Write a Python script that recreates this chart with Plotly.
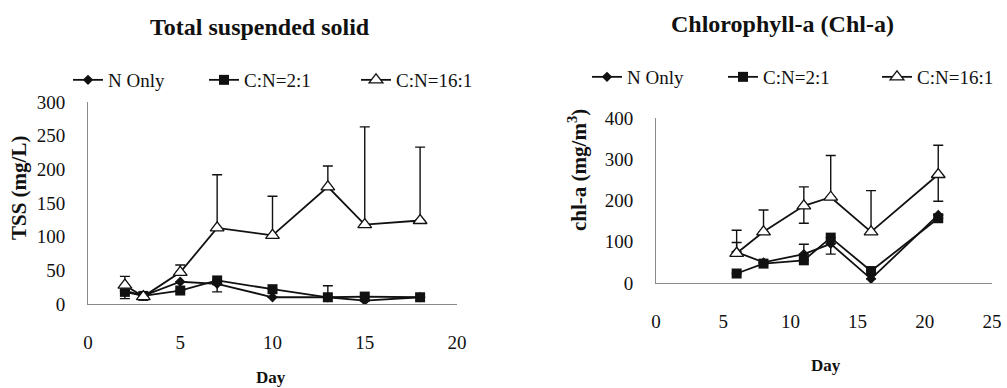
import plotly.graph_objects as go

# ---- Total suspended solid (TSS, mg/L) ----
tss_days = [2, 3, 5, 7, 10, 13, 15, 18]
tss_n_only = [20, 12, 33, 30, 10, 10, 5, 10]
tss_cn2 = [18, 12, 20, 35, 22, 10, 11, 10]
tss_cn16 = [28, 11, 47, 113, 102, 174, 118, 124]
tss_n_only_err_lo = [12, 0, 0, 0, 0, 0, 0, 0]
tss_cn2_err_hi = [0, 0, 0, 0, 0, 17, 0, 0]
tss_cn2_err_lo = [0, 0, 0, 17, 0, 0, 0, 0]
tss_cn16_err_hi = [13, 0, 11, 79, 58, 31, 145, 109]

# ---- Chlorophyll-a (Chl-a, mg/m3) ----
chl_days = [6, 8, 11, 13, 16, 21]
chl_n_only = [75, 50, 70, 95, 10, 165]
chl_cn2 = [23, 47, 55, 110, 29, 157]
chl_cn16 = [72, 124, 187, 208, 124, 263]
chl_n_only_err_hi = [23, 0, 24, 0, 0, 0]
chl_cn2_err_lo = [0, 0, 0, 40, 0, 0]
chl_cn16_err_hi = [56, 53, 46, 101, 100, 71]
chl_cn16_err_lo = [0, 0, 42, 0, 0, 65]

series_names = ["N Only", "C:N=2:1", "C:N=16:1"]

FONT = "Liberation Serif"
INK = "#111111"
AXIS = "#8a8a8a"

W, H = 1007, 388


def px_x(p):
    return p / W


def px_y(p):
    return 1 - p / H


def err(hi, lo):
    return dict(type="data", symmetric=False, array=hi, arrayminus=lo,
                color=INK, thickness=1.4, width=5)


zeros8 = [0] * len(tss_days)
zeros6 = [0] * len(chl_days)

fig = go.Figure()

marker_styles = [
    dict(symbol="diamond", size=8, color=INK),
    dict(symbol="square", size=10, color=INK),
    dict(symbol="triangle-up", size=12, color="white", line=dict(color=INK, width=1.3)),
]

# one legend per entry so each key sits where it belongs in its row
tss_legends = ["legend", "legend2", "legend3"]
chl_legends = ["legend4", "legend5", "legend6"]

tss_vals = [tss_n_only, tss_cn2, tss_cn16]
tss_err = [err(zeros8, tss_n_only_err_lo), err(tss_cn2_err_hi, tss_cn2_err_lo),
           err(tss_cn16_err_hi, zeros8)]
for name, vals, mk, e, lg in zip(series_names, tss_vals, marker_styles, tss_err, tss_legends):
    fig.add_trace(go.Scatter(
        x=tss_days, y=vals, name=name, mode="lines+markers",
        line=dict(color=INK, width=1.8), marker=mk, error_y=e,
        xaxis="x", yaxis="y", legend=lg,
    ))

chl_vals = [chl_n_only, chl_cn2, chl_cn16]
chl_err = [err(chl_n_only_err_hi, zeros6), err(zeros6, chl_cn2_err_lo),
           err(chl_cn16_err_hi, chl_cn16_err_lo)]
for name, vals, mk, e, lg in zip(series_names, chl_vals, marker_styles, chl_err, chl_legends):
    fig.add_trace(go.Scatter(
        x=chl_days, y=vals, name=name, mode="lines+markers",
        line=dict(color=INK, width=1.8), marker=mk, error_y=e,
        xaxis="x2", yaxis="y2", legend=lg,
    ))

tick_font = dict(family=FONT, size=19, color=INK)
xcommon = dict(showgrid=False, zeroline=False, showline=True, linecolor=AXIS,
               linewidth=1, ticks="outside", ticklen=21, tickcolor="rgba(0,0,0,0)",
               tickfont=tick_font, dtick=5, automargin=False)
ycommon = dict(showgrid=False, zeroline=False, showline=True, linecolor=AXIS,
               linewidth=1, ticks="outside", ticklen=18, tickcolor="rgba(0,0,0,0)",
               tickfont=tick_font, automargin=False)

legend_common = dict(orientation="h", font=dict(family=FONT, size=19, color=INK),
                     bgcolor="rgba(0,0,0,0)", xanchor="left", yanchor="middle",
                     itemclick=False, itemwidth=30)

# text start positions of the legend keys (px)
tss_key_x = [110, 246, 398]
chl_key_x = [629, 765, 919]
legend_layout = {}
for lg, kx in zip(tss_legends, tss_key_x):
    legend_layout[lg] = dict(legend_common, x=px_x(kx - 42), y=px_y(80))
for lg, kx in zip(chl_legends, chl_key_x):
    legend_layout[lg] = dict(legend_common, x=px_x(kx - 42), y=px_y(77))

fig.update_layout(
    template="none",
    width=W, height=H,
    margin=dict(l=0, r=0, t=0, b=0, pad=0, autoexpand=False),
    paper_bgcolor="white", plot_bgcolor="white",
    showlegend=True,
    xaxis=dict(xcommon, domain=[px_x(88), px_x(457)], range=[0, 20], anchor="y"),
    yaxis=dict(ycommon, domain=[px_y(304), px_y(102)], range=[0, 300], dtick=50, anchor="x"),
    xaxis2=dict(xcommon, domain=[px_x(656), px_x(992)], range=[0, 25], anchor="y2"),
    yaxis2=dict(ycommon, domain=[px_y(283), px_y(118)], range=[0, 400], dtick=100, anchor="x2"),
    annotations=[
        dict(text="<b>Total suspended solid</b>", x=px_x(260), y=px_y(27),
             font=dict(family=FONT, size=24, color=INK)),
        dict(text="<b>Chlorophyll-a (Chl-a)</b>", x=px_x(782), y=px_y(24),
             font=dict(family=FONT, size=24, color=INK)),
        dict(text="<b>TSS (mg/L)</b>", x=px_x(19), y=px_y(188), textangle=-90,
             font=dict(family=FONT, size=21, color=INK)),
        dict(text="<b>chl-a (mg/m<sup>3</sup>)</b>", x=px_x(577), y=px_y(170), textangle=-90,
             font=dict(family=FONT, size=21, color=INK)),
        dict(text="<b>Day</b>", x=px_x(271), y=px_y(377),
             font=dict(family=FONT, size=17, color=INK)),
        dict(text="<b>Day</b>", x=px_x(826), y=px_y(365),
             font=dict(family=FONT, size=17, color=INK)),
    ],
    **legend_layout,
)
fig.update_annotations(xref="paper", yref="paper", showarrow=False,
                       xanchor="center", yanchor="middle")

fig.write_html("out.html")
